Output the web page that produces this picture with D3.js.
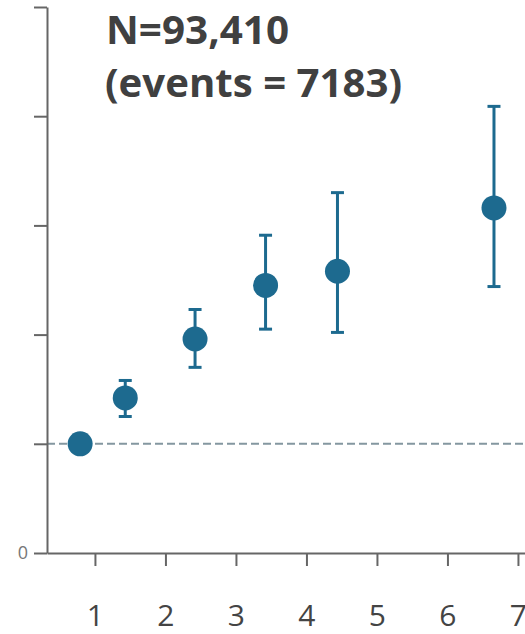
<!DOCTYPE html>
<html>
<head>
<meta charset="utf-8">
<script src="https://cdn.jsdelivr.net/npm/d3@7"></script>
<style>
  html, body { margin: 0; padding: 0; background: #fff; }
  svg { display: block; }
</style>
</head>
<body>
<svg id="chart" width="525" height="634"></svg>
<script>
// Group positions on the x axis and estimated ratios with 95% CI
const groupX   = [0.79, 1.43, 2.42, 3.42, 4.44, 6.66];
const estimate = [1.00, 1.42, 1.96, 2.45, 2.58, 3.16];
const lower    = [null, 1.25, 1.70, 2.05, 2.02, 2.44];
const upper    = [null, 1.58, 2.23, 2.91, 3.30, 4.09];

const xTicks = [1, 2, 3, 4, 5, 6, 7];
const yTicks = [0, 1, 2, 3, 4, 5];
const referenceValue = 1;
const titleLines = ["N=93,410", "(events = 7183)"];

const svg = d3.select("#chart");
const plotLeft = 47, plotRight = 525, plotTop = 7, plotBottom = 553;

const x = d3.scaleLinear().domain([0.32, 7.1]).range([plotLeft, plotRight]);
const y = d3.scaleLinear().domain([0, 5]).range([plotBottom, plotTop]);

const axisColor = "#666";
const markColor = "#1d6a8f";

// reference line
svg.append("line")
  .attr("x1", plotLeft).attr("x2", plotRight)
  .attr("y1", y(referenceValue)).attr("y2", y(referenceValue))
  .attr("stroke", "#8497a0").attr("stroke-width", 2)
  .attr("stroke-dasharray", "8,4");

// y axis
const yAxis = svg.append("g")
  .attr("transform", `translate(${plotLeft},0)`)
  .call(d3.axisLeft(y).tickValues(yTicks).tickSize(13).tickSizeOuter(0)
        .tickFormat(d => d === 0 ? "0" : ""));
yAxis.select(".domain").attr("stroke", axisColor).attr("stroke-width", 2);
yAxis.selectAll(".tick line").attr("stroke", axisColor).attr("stroke-width", 2);
yAxis.selectAll(".tick text")
  .attr("font-family", "'Open Sans', sans-serif").attr("font-size", 18)
  .attr("fill", "#777").attr("x", -19);

// x axis
const xAxis = svg.append("g")
  .attr("transform", `translate(0,${plotBottom})`)
  .call(d3.axisBottom(x).tickValues(xTicks).tickSize(13).tickSizeOuter(0)
        .tickPadding(39).tickFormat(d3.format("d")));
xAxis.select(".domain").attr("stroke", axisColor).attr("stroke-width", 2);
xAxis.selectAll(".tick line").attr("stroke", axisColor).attr("stroke-width", 2);
xAxis.selectAll(".tick text")
  .attr("font-family", "'Open Sans', sans-serif").attr("font-size", 30)
  .attr("fill", "#444");

// data rows
const rows = groupX.map((gx, i) => ({ gx, est: estimate[i], lo: lower[i], hi: upper[i] }));
const withCI = rows.filter(d => d.lo != null);

const bars = svg.append("g");
bars.selectAll("line.ci").data(withCI).join("line")
  .attr("class", "ci")
  .attr("x1", d => x(d.gx)).attr("x2", d => x(d.gx))
  .attr("y1", d => y(d.lo)).attr("y2", d => y(d.hi))
  .attr("stroke", markColor).attr("stroke-width", 3);
const capW = 6.5;
bars.selectAll("line.capHi").data(withCI).join("line")
  .attr("class", "capHi")
  .attr("x1", d => x(d.gx) - capW).attr("x2", d => x(d.gx) + capW)
  .attr("y1", d => y(d.hi)).attr("y2", d => y(d.hi))
  .attr("stroke", markColor).attr("stroke-width", 3);
bars.selectAll("line.capLo").data(withCI).join("line")
  .attr("class", "capLo")
  .attr("x1", d => x(d.gx) - capW).attr("x2", d => x(d.gx) + capW)
  .attr("y1", d => y(d.lo)).attr("y2", d => y(d.lo))
  .attr("stroke", markColor).attr("stroke-width", 3);

svg.append("g").selectAll("circle").data(rows).join("circle")
  .attr("cx", d => x(d.gx)).attr("cy", d => y(d.est))
  .attr("r", 12.5).attr("fill", markColor);

// annotation
const title = svg.append("g")
  .attr("font-family", "'Open Sans', sans-serif").attr("font-weight", "bold")
  .attr("font-size", 40).attr("fill", "#404040");
title.append("text").attr("x", 106).attr("y", 44)
  .attr("textLength", 183).attr("lengthAdjust", "spacingAndGlyphs")
  .text(titleLines[0]);
title.append("text").attr("x", 105).attr("y", 97)
  .attr("textLength", 297).attr("lengthAdjust", "spacingAndGlyphs")
  .text(titleLines[1]);
</script>
</body>
</html>
